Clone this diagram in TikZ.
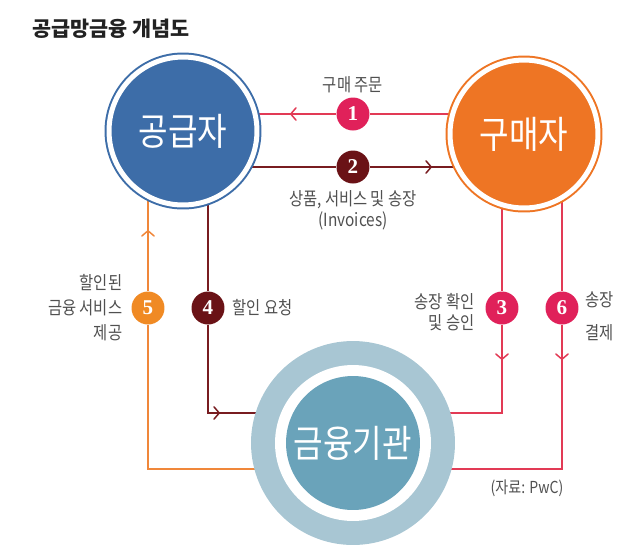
\documentclass[tikz,border=0pt]{standalone}
\usepackage{fontspec}
\setmainfont{Noto Sans CJK KR}[FakeStretch=0.85]
\newfontfamily\titlefont{Noto Sans CJK KR}
\newfontfamily\numfont{Liberation Serif}
\usetikzlibrary{positioning,backgrounds,arrows.meta}

\definecolor{supblue}{HTML}{3D6DA8}
\definecolor{buyorange}{HTML}{EE7524}
\definecolor{finring}{HTML}{A8C6D3}
\definecolor{fincore}{HTML}{6AA3BA}
\definecolor{pinkline}{HTML}{E23A55}
\definecolor{pinkbadge}{HTML}{E0215A}
\definecolor{maroonline}{HTML}{781C20}
\definecolor{maroonbadge}{HTML}{6A1216}
\definecolor{orangeline}{HTML}{F0873A}
\definecolor{orangebadge}{HTML}{F08A24}
\definecolor{txtgray}{HTML}{505050}
\definecolor{titlegray}{HTML}{222222}

\tikzset{
  party/.style={circle, line width=0.04cm, double=white, double distance=0.1cm,
    minimum size=2.96cm, inner sep=0pt, text=white,
    font=\fontsize{21.5pt}{24pt}\selectfont},
  finst/.style={circle, fill=finring, minimum size=4.08cm, inner sep=0pt, text=white,
    font=\fontsize{21.5pt}{24pt}\selectfont,
    path picture={
      \fill[white] (path picture bounding box.center) circle (1.56cm);
      \fill[fincore] (path picture bounding box.center) circle (1.34cm);}},
  badge/.style={circle, fill=#1, text=white, minimum size=0.66cm, inner sep=0pt,
    font=\numfont\bfseries\fontsize{12pt}{12pt}\selectfont},
  lbl/.style={text=txtgray, inner sep=0pt, font=\fontsize{10.3pt}{12pt}\selectfont},
  flow/.style={draw=#1, line width=0.85pt},
  midtip/.style={-{Straight Barb[length=3pt,width=7pt,round]}}
}

\begin{document}
\begin{tikzpicture}[x=0.02cm,y=-0.02cm]
  \useasboundingbox (0,0) rectangle (630,556);

  % title
  \node[anchor=west, inner sep=0pt, text=titlegray,
    font=\titlefont\bfseries\fontsize{11.8pt}{13pt}\selectfont] (title) at (32,29) {공급망금융 개념도};

  % the three parties
  \node[party, draw=supblue, fill=supblue] (supplier) at (183,131) {공급자};
  \node[party, draw=buyorange, fill=buyorange] (buyer) at (524,134) {구매자};
  \node[finst] (fi) at (353,443) {금융기관};

  % numbered steps
  \node[badge=pinkbadge] (b1) at (353,114) {1};
  \node[badge=maroonbadge] (b2) at (353,167) {2};
  \node[badge=pinkbadge] (b3) at (502,308) {3};
  \node[badge=maroonbadge] (b4) at (208,308) {4};
  \node[badge=orangebadge] (b5) at (148,308) {5};
  \node[badge=pinkbadge] (b6) at (562,308) {6};

  \node[lbl, above=0.07cm of b1] (l1) {구매 주문};
  \node[lbl, below=0.12cm of b2, align=center] (l2) {상품, 서비스 및 송장\\(Invoices)};
  \node[lbl, left=0.2cm of b3, align=right, yshift=-0.08cm] (l3) {송장 확인\\및 승인};
  \node[lbl, right=0.15cm of b4] (l4) {할인 요청};
  \node[lbl, left=0.17cm of b5, align=right] (l5) {할인된\\[2.2pt]금융 서비스\\[2.2pt]제공};
  \node[lbl, right=0.13cm of b6, align=left, yshift=-0.17cm] (l6) {송장\\[6.8pt]결제};

  \node[lbl, font=\fontsize{9.4pt}{10pt}\selectfont] (src) at (527,488) {(자료: PwC)};

  % corners and arrow points
  \coordinate (c3) at (502,413);
  \coordinate (c4) at (208,413);
  \coordinate (c5) at (148,469);
  \coordinate (c6) at (562,469);
  \coordinate (a1) at (290,114);
  \coordinate (a2) at (432,167);
  \coordinate (a3) at (502,360);
  \coordinate (a4) at (220,413);
  \coordinate (a5) at (148,230);
  \coordinate (a6) at (562,360);

  \begin{pgfonlayer}{background}
    \draw[flow=pinkline] (buyer.center |- b1) -- (b1) -- (supplier.center |- b1);
    \draw[flow=pinkline, midtip] (b1) -- (a1);

    \draw[flow=maroonline] (supplier.center |- b2) -- (b2) -- (buyer.center |- b2);
    \draw[flow=maroonline, midtip] (b2) -- (a2);

    \draw[flow=pinkline] (b3 |- buyer.center) -- (b3) -- (c3) -- (fi.center |- c3);
    \draw[flow=pinkline, midtip] (b3) -- (a3);

    \draw[flow=maroonline] (b4 |- supplier.center) -- (b4) -- (c4) -- (fi.center |- c4);
    \draw[flow=maroonline, midtip] (c4) -- (a4);

    \draw[flow=orangeline] (fi.center |- c5) -- (c5) -- (b5) -- (b5 |- supplier.center);
    \draw[flow=orangeline, midtip] (b5) -- (a5);

    \draw[flow=pinkline] (b6 |- buyer.center) -- (b6) -- (c6) -- (fi.center |- c6);
    \draw[flow=pinkline, midtip] (b6) -- (a6);
  \end{pgfonlayer}
\end{tikzpicture}
\end{document}
